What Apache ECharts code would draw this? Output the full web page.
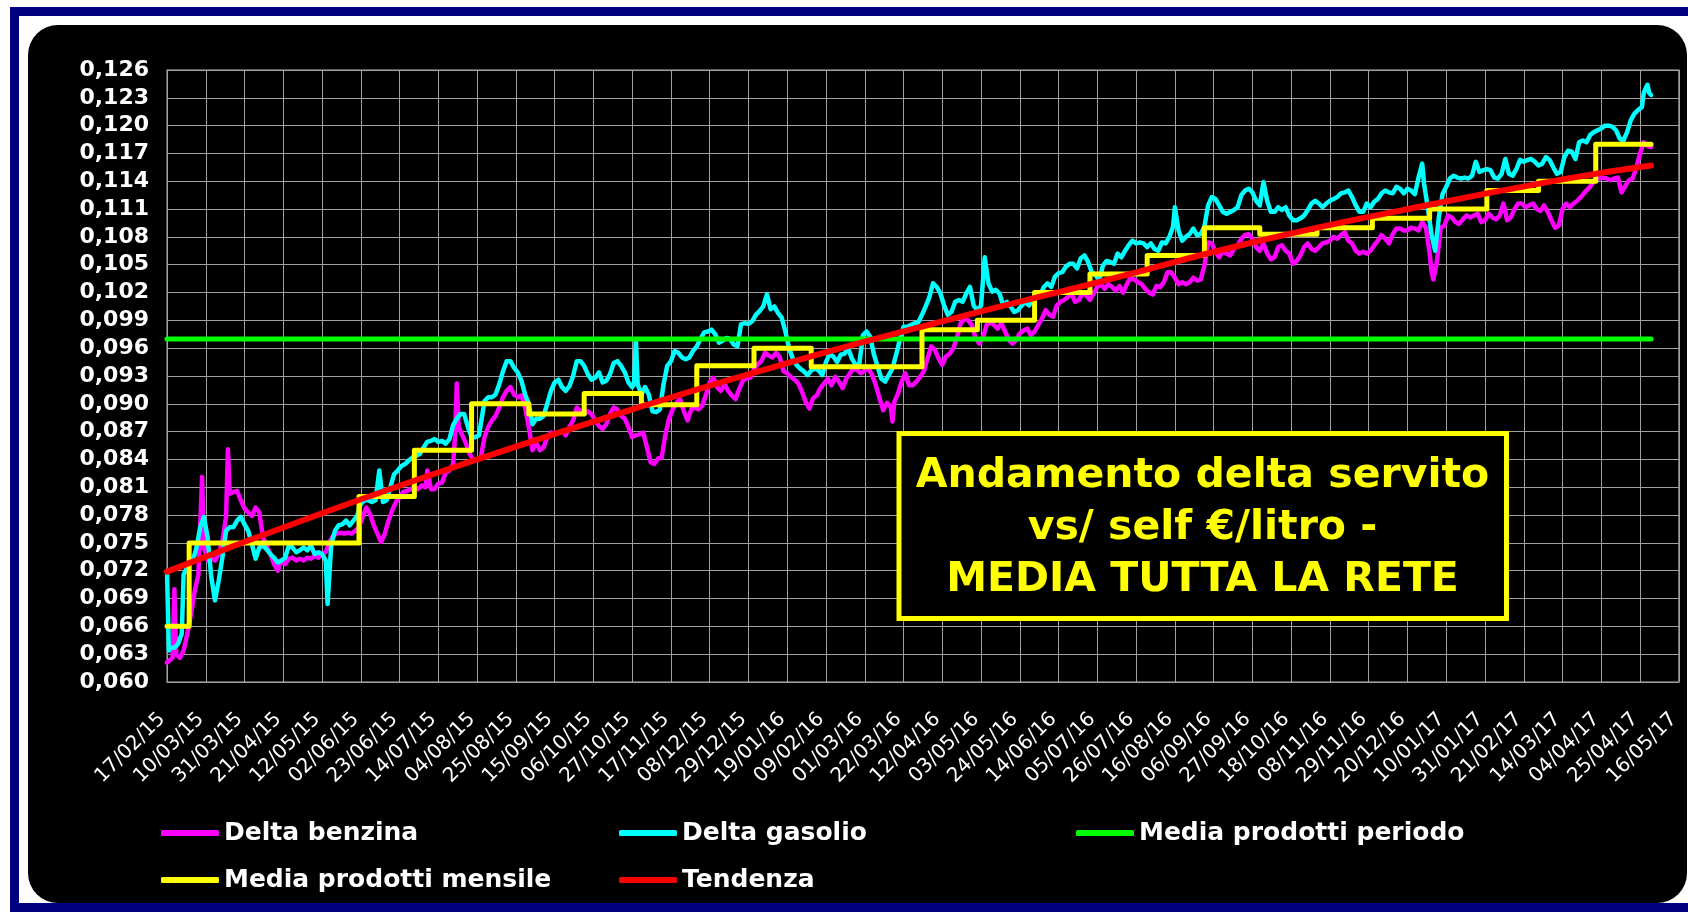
<!DOCTYPE html>
<html>
<head>
<meta charset="utf-8">
<script src="https://cdn.jsdelivr.net/npm/echarts@6/dist/echarts.min.js"></script>
<style>
html,body{margin:0;padding:0;background:#ffffff;}
#chart{width:1688px;height:915px;}
</style>
</head>
<body>
<div id="chart"></div>
<script>
// ---- axis domain ----
const startYear = 2015, startMonth = 1, startDay = 17;   // 17/02/15
const dayCount = 820;                                      // up to 16/05/17
const yMin = 0.060, yMax = 0.126, yStep = 0.003;
const labelEvery = 21;

// ---- series (x = days since 17/02/15) ----
const benzina = [
[0,.0621],[3,.0626],[4,.0700],[5,.0630],[7,.0626],[9,.0634],[11,.0652],[13,.0673],[15,.0698],[17,.0716],[19,.0821],[20,.0745],[22,.0731],[24,.0733],[26,.0731],[28,.0738],[30,.0752],[32,.0778],[33,.0851],[34,.0803],[36,.0805],[38,.0806],[40,.0796],[42,.0787],[44,.0783],[46,.0779],[48,.0788],[50,.0783],[52,.0756],[54,.0747],[56,.0738],[58,.0727],[60,.0720],[62,.0731],[64,.0727],[66,.0733],[68,.0734],[70,.0731],[72,.0733],[74,.0731],[76,.0734],[78,.0733],[80,.0736],[82,.0734],[84,.0738],[86,.0740],[88,.0751],[90,.0758],[92,.0760],[94,.0761],[96,.0760],[98,.0761],[100,.0760],[102,.0763],[104,.0767],[106,.0778],[108,.0788],[110,.0781],[112,.0769],[114,.0760],[116,.0751],[118,.0760],[120,.0774],[122,.0785],[124,.0794],[126,.0799],[128,.0805],[130,.0806],[132,.0808],[134,.0810],[136,.0808],[138,.0812],[140,.0810],[141,.0828],[143,.0808],[145,.0808],[147,.0814],[149,.0815],[151,.0826],[153,.0828],[155,.0835],[156,.0864],[157,.0922],[158,.0875],[160,.0866],[162,.0857],[164,.0846],[166,.0839],
[168,.0839],[170,.0842],[172,.0864],[174,.0875],[176,.0882],[178,.0887],[180,.0896],[182,.0907],[184,.0914],[186,.0918],[188,.0910],[190,.0907],[192,.0909],[194,.0896],[196,.0875],[198,.0850],[200,.0858],[202,.0850],[204,.0853],[206,.0864],[208,.0869],[210,.0867],[212,.0869],[214,.0871],[216,.0866],[218,.0875],[220,.0882],[222,.0896],[224,.0892],[226,.0889],[228,.0892],[230,.0889],[232,.0882],[234,.0876],[236,.0873],[238,.0878],[240,.0889],[242,.0896],[244,.0894],[246,.0887],[248,.0884],[250,.0875],[252,.0864],[254,.0866],[256,.0867],[258,.0869],[260,.0853],[262,.0837],[264,.0835],[266,.0841],[268,.0842],[270,.0867],[272,.0884],[274,.0894],[276,.0901],[278,.0905],[280,.0892],[282,.0882],[284,.0894],[286,.0896],[288,.0894],[290,.0898],[292,.0910],[294,.0923],[296,.0928],[298,.0918],[300,.0914],[302,.0921],[304,.0914],[306,.0909],[308,.0905],[310,.0916],[312,.0925],[314,.0928],[316,.0928],[318,.0937],[320,.0943],[322,.0946],[324,.0955],[326,.0952],[328,.0950],[330,.0955],[332,.0950],[334,.0935],
[336,.0933],[338,.0929],[340,.0926],[342,.0922],[344,.0913],[346,.0902],[348,.0895],[350,.0906],[352,.0909],[354,.0917],[356,.0922],[358,.0927],[360,.0920],[362,.0929],[364,.0924],[366,.0917],[368,.0927],[370,.0933],[372,.0938],[374,.0936],[376,.0933],[378,.0936],[380,.0938],[382,.0931],[384,.0920],[386,.0906],[388,.0893],[390,.0901],[392,.0897],[393,.0881],[394,.0902],[396,.0911],[398,.0924],[400,.0933],[402,.0920],[404,.0920],[406,.0924],[408,.0929],[410,.0935],[412,.0949],[414,.0962],[416,.0958],[418,.0949],[420,.0942],[422,.0951],[424,.0954],[426,.0960],[428,.0972],[430,.0987],[432,.0992],[434,.0990],[436,.0985],[438,.0971],[440,.0965],[442,.0971],[444,.0985],[446,.0988],[448,.0985],[450,.0981],[452,.0987],[454,.0978],[456,.0969],[458,.0965],[460,.0969],[462,.0976],[464,.0979],[466,.0981],[468,.0974],[470,.0978],[472,.0985],[474,.0992],[476,.1001],[478,.0996],[480,.0994],[482,.1006],[484,.1010],[486,.1012],[488,.1015],[490,.1019],[492,.1010],[494,.1012],[496,.1019],[498,.1017],[500,.1012],[502,.1019],
[504,.1026],[506,.1029],[508,.1024],[510,.1029],[512,.1026],[514,.1022],[516,.1027],[518,.1020],[520,.1029],[522,.1036],[524,.1034],[526,.1031],[528,.1029],[530,.1024],[532,.1020],[534,.1018],[536,.1027],[538,.1026],[540,.1031],[542,.1042],[544,.1042],[546,.1036],[548,.1029],[550,.1031],[552,.1029],[554,.1031],[556,.1036],[558,.1033],[560,.1034],[562,.1049],[564,.1074],[566,.1073],[568,.1064],[570,.1058],[572,.1065],[574,.1062],[576,.1060],[578,.1067],[580,.1071],[582,.1078],[584,.1082],[586,.1083],[588,.1078],[590,.1069],[592,.1065],[594,.1073],[596,.1062],[598,.1056],[600,.1058],[602,.1069],[604,.1071],[606,.1065],[608,.1062],[610,.1051],[612,.1054],[614,.1060],[616,.1069],[618,.1073],[620,.1067],[622,.1065],[624,.1069],[626,.1073],[628,.1074],[630,.1076],[632,.1080],[634,.1078],[636,.1082],[638,.1085],[640,.1076],[642,.1073],[644,.1065],[646,.1062],[648,.1064],[650,.1062],[652,.1065],[654,.1071],[656,.1076],[658,.1082],[660,.1078],[662,.1073],[664,.1083],[666,.1089],[668,.1089],[670,.1087],
[672,.1087],[674,.1090],[676,.1089],[678,.1087],[680,.1096],[682,.1090],[684,.1063],[685,.1043],[686,.1034],[688,.1054],[690,.1090],[692,.1092],[694,.1103],[696,.1101],[698,.1096],[700,.1094],[702,.1099],[704,.1103],[706,.1101],[708,.1103],[710,.1105],[712,.1096],[714,.1098],[716,.1105],[718,.1101],[720,.1099],[722,.1103],[724,.1116],[726,.1098],[728,.1101],[730,.1110],[732,.1116],[734,.1116],[736,.1112],[738,.1114],[740,.1116],[742,.1110],[744,.1108],[746,.1114],[748,.1107],[750,.1098],[752,.1090],[754,.1092],[756,.1110],[758,.1116],[760,.1112],[762,.1116],[764,.1119],[766,.1123],[768,.1128],[770,.1132],[772,.1137],[774,.1143],[776,.1143],[778,.1144],[780,.1143],[782,.1141],[784,.1143],[786,.1144],[788,.1128],[790,.1135],[792,.1141],[794,.1143],[796,.1155],[798,.1170],[800,.1182],[802,.1178],[804,.1177]
];

const gasolio = [
[0,.0720],[1,.0634],[2,.0637],[4,.0637],[6,.0641],[8,.0652],[9,.0716],[11,.0724],[14,.0731],[16,.0745],[18,.0767],[20,.0778],[22,.0756],[24,.0713],[26,.0688],[28,.0709],[30,.0734],[32,.0763],[34,.0767],[36,.0767],[38,.0774],[40,.0778],[42,.0770],[44,.0763],[46,.0749],[48,.0733],[50,.0745],[52,.0747],[54,.0743],[56,.0738],[58,.0734],[60,.0729],[62,.0731],[64,.0734],[66,.0747],[68,.0745],[70,.0740],[72,.0742],[74,.0745],[76,.0742],[78,.0747],[80,.0738],[82,.0740],[84,.0738],[86,.0731],[87,.0684],[89,.0749],[91,.0763],[93,.0769],[95,.0770],[97,.0774],[99,.0769],[101,.0774],[103,.0779],[105,.0792],[107,.0796],[109,.0796],[111,.0794],[113,.0796],[115,.0828],[117,.0794],[119,.0796],[121,.0810],[123,.0824],[125,.0828],[127,.0833],[129,.0835],[131,.0839],[133,.0842],[135,.0844],[137,.0846],[139,.0853],[141,.0859],[143,.0860],[145,.0862],[147,.0859],[149,.0860],[151,.0857],[153,.0862],[155,.0877],[157,.0884],[159,.0889],[161,.0889],[163,.0875],[165,.0864],[167,.0864],[169,.0866],
[172,.0903],[174,.0907],[176,.0907],[178,.0910],[180,.0921],[182,.0935],[184,.0946],[186,.0946],[188,.0939],[190,.0934],[192,.0925],[194,.0910],[196,.0900],[198,.0878],[200,.0884],[202,.0884],[204,.0887],[206,.0900],[208,.0914],[210,.0923],[212,.0926],[214,.0918],[216,.0914],[218,.0919],[220,.0930],[222,.0946],[224,.0946],[226,.0941],[228,.0932],[230,.0926],[232,.0928],[234,.0934],[236,.0923],[238,.0925],[240,.0932],[242,.0944],[244,.0946],[246,.0941],[248,.0934],[250,.0923],[252,.0918],[253,.0921],[254,.0970],[255,.0921],[257,.0910],[259,.0918],[261,.0910],[263,.0892],[265,.0891],[267,.0894],[269,.0921],[271,.0941],[273,.0946],[275,.0957],[277,.0955],[279,.0950],[281,.0948],[283,.0950],[285,.0957],[287,.0962],[289,.0970],[291,.0977],[293,.0978],[295,.0980],[297,.0975],[299,.0966],[301,.0968],[303,.0971],[305,.0970],[307,.0964],[309,.0962],[311,.0986],[313,.0987],[315,.0986],[317,.0989],[319,.0996],[321,.1000],[323,.1005],[325,.1018],[327,.1002],[329,.1005],[331,.0998],[333,.0993],[335,.0978],
[337,.0960],[339,.0949],[341,.0942],[343,.0938],[345,.0935],[347,.0931],[349,.0936],[351,.0938],[353,.0936],[355,.0931],[357,.0945],[359,.0954],[361,.0951],[363,.0945],[365,.0953],[367,.0954],[369,.0960],[371,.0949],[373,.0942],[375,.0942],[377,.0974],[379,.0978],[381,.0972],[383,.0953],[385,.0940],[387,.0927],[389,.0924],[391,.0931],[393,.0938],[395,.0953],[397,.0969],[399,.0983],[401,.0983],[403,.0985],[405,.0987],[407,.0988],[409,.0996],[411,.1005],[413,.1015],[415,.1030],[417,.1026],[419,.1019],[421,.1006],[423,.0996],[425,.0999],[427,.1010],[429,.1012],[431,.1010],[433,.1019],[435,.1026],[437,.1006],[439,.1001],[441,.1006],[443,.1058],[445,.1030],[447,.1021],[449,.1023],[451,.1019],[453,.1006],[455,.1010],[457,.1005],[459,.0999],[461,.1001],[463,.1006],[465,.1010],[467,.1006],[469,.1012],[471,.1015],[473,.1017],[475,.1026],[477,.1030],[479,.1026],[481,.1037],[483,.1041],[485,.1042],[487,.1048],[489,.1051],[491,.1051],[493,.1046],[495,.1057],[497,.1060],[499,.1053],[501,.1042],[503,.1039],
[505,.1033],[507,.1049],[509,.1054],[511,.1053],[513,.1051],[515,.1062],[517,.1058],[519,.1065],[521,.1071],[523,.1076],[525,.1073],[527,.1074],[529,.1073],[531,.1069],[533,.1073],[535,.1067],[537,.1065],[539,.1074],[541,.1073],[543,.1080],[545,.1091],[546,.1112],[548,.1087],[550,.1076],[552,.1080],[554,.1083],[556,.1089],[558,.1082],[560,.1083],[562,.1091],[564,.1114],[566,.1123],[568,.1121],[570,.1114],[572,.1107],[574,.1105],[576,.1107],[578,.1109],[580,.1112],[582,.1125],[584,.1130],[586,.1132],[588,.1128],[590,.1119],[592,.1114],[594,.1139],[596,.1119],[598,.1107],[600,.1107],[602,.1112],[604,.1109],[606,.1112],[608,.1103],[610,.1098],[612,.1098],[614,.1100],[616,.1103],[618,.1109],[620,.1116],[622,.1119],[624,.1116],[626,.1112],[628,.1116],[630,.1119],[632,.1121],[634,.1123],[636,.1127],[638,.1128],[640,.1130],[642,.1123],[644,.1114],[646,.1107],[648,.1107],[650,.1116],[652,.1112],[654,.1118],[656,.1121],[658,.1127],[660,.1130],[662,.1128],[664,.1127],[666,.1134],[668,.1132],[670,.1127],
[672,.1132],[674,.1130],[676,.1126],[678,.1144],[680,.1159],[681,.1137],[683,.1112],[685,.1083],[687,.1065],[689,.1101],[691,.1126],[693,.1134],[695,.1143],[697,.1146],[699,.1144],[701,.1143],[703,.1144],[705,.1143],[707,.1146],[709,.1161],[711,.1150],[713,.1152],[715,.1153],[717,.1152],[719,.1144],[721,.1143],[723,.1148],[725,.1164],[727,.1148],[729,.1146],[731,.1153],[733,.1163],[735,.1161],[737,.1163],[739,.1164],[741,.1161],[743,.1157],[745,.1159],[747,.1166],[749,.1163],[751,.1155],[753,.1148],[755,.1150],[757,.1166],[759,.1173],[761,.1172],[763,.1164],[765,.1182],[767,.1184],[769,.1182],[771,.1190],[773,.1193],[775,.1195],[777,.1197],[779,.1200],[781,.1200],[783,.1199],[785,.1195],[787,.1186],[789,.1184],[791,.1193],[793,.1206],[795,.1213],[797,.1217],[799,.1220],[800,.1235],[801,.1240],[802,.1244],[803,.1235],[804,.1233]
];

const mediaPeriodoDays = [0, 804];
const mediaPeriodoVals = [0.0970, 0.0970];

const mensileDays = [0,12,43,73,104,134,165,196,226,257,287,318,349,378,409,439,470,500,531,562,592,623,653,684,715,743,774,804];
const mensileVals = [0.0660,0.0750,0.0750,0.0750,0.0800,0.0850,0.0900,0.0889,0.0911,0.0899,0.0941,0.0960,0.0940,0.0940,0.0980,0.0990,0.1020,0.1040,0.1060,0.1090,0.1083,0.1090,0.1100,0.1110,0.1130,0.1140,0.1180,0.1180];

const tendenzaDays = [0,84,168,252,336,420,504,588,672,756,804];
const tendenzaVals = [0.0719,0.0782,0.0840,0.0894,0.0944,0.0989,0.1031,0.1074,0.1110,0.1142,0.1157];

const seriesNames = ['Delta benzina','Delta gasolio','Media prodotti periodo','Media prodotti mensile','Tendenza'];
const seriesColors = ['#ff00ff','#00ffff','#00ff00','#ffff00','#ff0000'];
const titleLines = ['Andamento delta servito','vs/ self €/litro -','MEDIA TUTTA LA RETE'];

// ---- build ----
const categories = [];
for (let i = 0; i < dayCount; i++) {
  const dt = new Date(Date.UTC(startYear, startMonth, startDay + i));
  categories.push(String(dt.getUTCDate()).padStart(2,'0') + '/' +
                  String(dt.getUTCMonth()+1).padStart(2,'0') + '/' +
                  String(dt.getUTCFullYear()).slice(2));
}
const zip = (a, b) => a.map((d, i) => [d, b[i]]);
const FONT = "'DejaVu Sans', Verdana, sans-serif";

function lineSeries(idx, data, width, extra) {
  return Object.assign({
    name: seriesNames[idx], type: 'line', data: data,
    color: seriesColors[idx], symbol: 'none', showSymbol: false,
    lineStyle: { color: seriesColors[idx], width: width, cap: 'round', join: 'round' },
    z: 2 + idx, emphasis: { disabled: true }
  }, extra || {});
}
function legendAt(idx, left, top) {
  return {
    data: [seriesNames[idx]], left: left, top: top, padding: 0,
    icon: 'roundRect', itemWidth: 58, itemHeight: 6, selectedMode: false,
    textStyle: { color: '#ffffff', fontSize: 25, fontWeight: 'bold', fontFamily: FONT, lineHeight: 30 }
  };
}

const chart = echarts.init(document.getElementById('chart'), null, { renderer: 'canvas', width: 1688, height: 915 });
chart.setOption({
  animation: false,
  backgroundColor: '#ffffff',
  graphic: [
    { type: 'rect', z: -20, silent: true,
      shape: { x: 14.5, y: 11.5, width: 1700, height: 896 },
      style: { fill: '#ffffff', stroke: '#000080', lineWidth: 9 } },
    { type: 'rect', z: -10, silent: true,
      shape: { x: 28, y: 25, width: 1659, height: 878, r: 30 },
      style: { fill: '#000000' } },
    { type: 'rect', z: 10, silent: true,
      shape: { x: 899, y: 433.5, width: 607.5, height: 185 },
      style: { fill: '#000000', stroke: '#ffff00', lineWidth: 5 } },
    { type: 'text', z: 11, silent: true, x: 1202.5, y: 476,
      style: { text: titleLines[0], fill: '#ffff00', font: "bold 41px 'DejaVu Sans'", align: 'center', verticalAlign: 'middle' } },
    { type: 'text', z: 11, silent: true, x: 1202.5, y: 528,
      style: { text: titleLines[1], fill: '#ffff00', font: "bold 41px 'DejaVu Sans'", align: 'center', verticalAlign: 'middle' } },
    { type: 'text', z: 11, silent: true, x: 1202.5, y: 580,
      style: { text: titleLines[2], fill: '#ffff00', font: "bold 41px 'DejaVu Sans'", align: 'center', verticalAlign: 'middle' } }
  ],
  legend: [
    legendAt(0, 161, 818), legendAt(1, 619, 818), legendAt(2, 1076, 818),
    legendAt(3, 161, 865), legendAt(4, 619, 865)
  ],
  grid: { left: 167, top: 70, width: 1515, height: 612, show: true,
          borderColor: '#7a7a7a', borderWidth: 1.5, backgroundColor: 'transparent', containLabel: false },
  xAxis: {
    type: 'category', data: categories, boundaryGap: false,
    axisLine: { show: false }, axisTick: { show: false },
    axisLabel: { interval: labelEvery - 1, rotate: 45, color: '#ffffff', fontSize: 20,
                 fontFamily: FONT, margin: 29, padding: [0, 7, 0, 0], lineHeight: 20 },
    splitLine: { show: true, interval: labelEvery - 1, lineStyle: { color: '#a0a0a0', width: 1 } }
  },
  yAxis: {
    type: 'value', min: yMin, max: yMax, interval: yStep,
    axisLine: { show: false }, axisTick: { show: false },
    axisLabel: { color: '#ffffff', fontSize: 22, fontWeight: 'bold', fontFamily: FONT, margin: 18,
                 formatter: v => v.toFixed(3).replace('.', ',') },
    splitLine: { show: true, lineStyle: { color: '#a0a0a0', width: 1 } }
  },
  series: [
    lineSeries(0, benzina, 4.5),
    lineSeries(1, gasolio, 4.5),
    lineSeries(2, zip(mediaPeriodoDays, mediaPeriodoVals), 5),
    lineSeries(3, zip(mensileDays, mensileVals), 5, { step: 'end' }),
    lineSeries(4, zip(tendenzaDays, tendenzaVals), 6, { smooth: true })
  ]
});
</script>
</body>
</html>
